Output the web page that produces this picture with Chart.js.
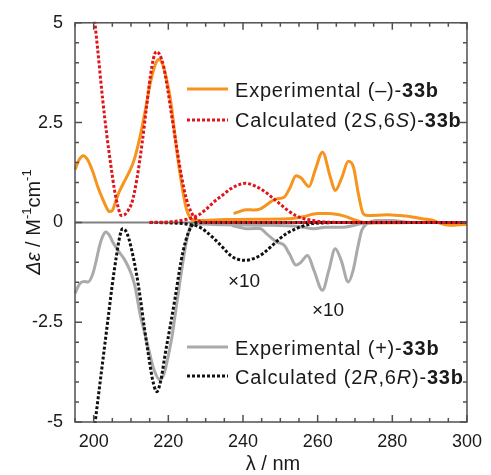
<!DOCTYPE html>
<html>
<head>
<meta charset="utf-8">
<script src="https://cdn.jsdelivr.net/npm/chart.js@4.4.1/dist/chart.umd.min.js"></script>
<style>
  html, body { margin: 0; padding: 0; background: #fff; }
</style>
</head>
<body>
<canvas id="chart" width="491" height="475"></canvas>
<script>
// ---- data (wavelength in nm, delta-epsilon) ----
const expMinusLambda = [195, 196, 197.2, 198.5, 199.8, 201, 202.4, 203.4, 204.2, 205, 205.8, 206.8, 208.2, 209.5, 210.4, 211.2, 212.5, 213.9, 215.2, 216.7, 217.5, 218.5, 219.5, 220.7, 221.5, 222.2, 223.5, 224.8, 225.8, 226.8, 228, 235, 245, 252, 256, 260, 263, 267.4, 270, 272.5, 280, 290, 300];
const expMinusValue  = [1.32, 1.55, 1.67, 1.55, 1.26, 0.92, 0.59, 0.38, 0.27, 0.3, 0.5, 0.76, 1.02, 1.26, 1.45, 1.68, 2.18, 2.84, 3.5, 4.0, 4.09, 3.95, 3.6, 3.0, 2.4, 1.84, 1.0, 0.35, 0.12, 0.05, 0.05, 0.07, 0.08, 0.09, 0.14, 0.22, 0.22, 0.15, 0.06, 0.0, -0.01, 0.0, 0.0];

const expMinusX10Lambda = [237.5, 239, 241, 243, 244.5, 246, 247.5, 249, 251, 252.5, 254.2, 255.5, 257.7, 259.3, 261.3, 263.4, 264.7, 266.5, 268.2, 269.6, 270.9, 272.2, 273.4, 278.7, 282, 285.8, 288, 291, 293, 295.4, 298, 300];
const expMinusX10Value  = [0.22, 0.27, 0.32, 0.31, 0.33, 0.42, 0.52, 0.59, 0.63, 0.85, 1.17, 1.12, 0.9, 1.3, 1.76, 1.13, 0.8, 1.13, 1.53, 1.38, 0.72, 0.22, 0.17, 0.19, 0.17, 0.13, 0.09, 0.05, -0.03, -0.07, -0.06, -0.05];

const expPlusLambda = [195, 196.3, 197.5, 198.5, 199.8, 200.7, 201.6, 202.5, 203.3, 204.2, 205.1, 206.8, 208.2, 209.5, 210.4, 211.2, 212.5, 213.6, 214.7, 216, 217.8, 219, 220, 221, 221.8, 222.7, 223.5, 224.6, 225.7, 226.8, 228, 235, 245, 255, 259, 262, 267, 272, 280, 290, 300];
const expPlusValue  = [-1.78, -1.53, -1.48, -1.49, -1.28, -0.95, -0.58, -0.33, -0.24, -0.32, -0.49, -0.74, -0.92, -1.16, -1.38, -1.66, -2.33, -2.75, -3.16, -3.65, -3.95, -3.75, -3.33, -2.85, -2.33, -1.75, -1.24, -0.6, -0.16, -0.05, -0.04, -0.06, -0.07, -0.1, -0.16, -0.12, -0.12, -0.03, 0.0, 0.0, 0.0];

const expPlusX10Lambda = [237, 239, 241, 244.5, 246.5, 249, 251, 252.5, 254.2, 255.5, 257.3, 259, 261.3, 263, 264.7, 266.3, 268.2, 269.5, 270.8, 271.8, 273, 276, 280, 285, 290, 300];
const expPlusX10Value  = [-0.08, -0.12, -0.16, -0.15, -0.3, -0.49, -0.57, -0.8, -1.07, -1.0, -0.83, -1.2, -1.7, -1.2, -0.66, -0.95, -1.49, -1.2, -0.6, -0.2, -0.05, 0.05, 0.05, 0.0, 0.0, 0.0];

const calcSSLambda = [200, 201, 202.4, 203.5, 204.6, 205.6, 206.5, 207.4, 208.4, 209.4, 210.3, 211.6, 213, 214.1, 215.2, 216, 216.8, 217.7, 218.7, 219.8, 220.9, 222.2, 223.5, 224.8, 226.1, 227.9, 230, 260, 300];
const calcSSValue  = [5.3, 4.4, 3.09, 2.2, 1.43, 0.8, 0.4, 0.17, 0.2, 0.33, 0.51, 1.1, 2.0, 2.85, 3.67, 4.1, 4.28, 4.2, 3.92, 3.35, 2.67, 1.9, 1.17, 0.6, 0.26, 0.05, 0.0, 0.0, 0.0];

const calcSSX10Lambda = [215, 220, 222, 225, 228, 230, 232.3, 234.5, 236.7, 238.5, 240.6, 243, 245.4, 247.6, 249.8, 252, 254.2, 256.4, 258.6, 262, 266, 300];
const calcSSX10Value  = [0.0, 0.01, 0.03, 0.08, 0.18, 0.32, 0.52, 0.68, 0.84, 0.93, 0.98, 0.92, 0.8, 0.64, 0.47, 0.3, 0.17, 0.09, 0.05, 0.01, 0.0, 0.0];

const calcRRLambda = [200, 201, 202, 203, 204, 205, 206, 207, 207.7, 208.5, 209.4, 210.3, 211.4, 212.5, 213.6, 214.7, 215.8, 216.9, 218, 219.1, 220.5, 221.8, 222.9, 223.9, 225.4, 227, 229, 260, 300];
const calcRRValue  = [-5.3, -4.55, -3.8, -3.05, -2.3, -1.55, -0.9, -0.35, -0.16, -0.2, -0.4, -0.74, -1.25, -1.9, -2.65, -3.33, -3.95, -4.24, -3.95, -3.33, -2.6, -1.9, -1.25, -0.74, -0.25, -0.02, 0.0, 0.0, 0.0];

const calcRRX10Lambda = [215, 220, 224, 226, 228, 230, 232.3, 234.5, 236.7, 238.5, 240.6, 243, 245.4, 247.6, 249.8, 252, 254.2, 256.4, 258.6, 262, 266, 300];
const calcRRX10Value  = [0.0, -0.01, -0.03, -0.06, -0.1, -0.22, -0.41, -0.62, -0.83, -0.92, -0.95, -0.9, -0.78, -0.6, -0.41, -0.26, -0.16, -0.08, -0.03, -0.01, 0.0, 0.0];

const xMin = 195, xMax = 300, xStep = 5;
const yMin = -5, yMax = 5, yStep = 0.5;

const FONT = "'Liberation Sans', Arial, Helvetica, sans-serif";
const ORANGE = '#f7941d', GREY = '#aaaaaa', RED = '#e0141c', BLACK = '#111111';

const pts = (xs, ys) => xs.map((x, i) => ({ x: x, y: ys[i] }));

function line(label, xs, ys, color, dotted) {
  return {
    label: label,
    data: pts(xs, ys),
    borderColor: color,
    borderWidth: 3,
    borderDash: dotted ? [3, 2] : [],
    pointRadius: 0,
    cubicInterpolationMode: 'monotone',
    fill: false,
    clip: 1
  };
}

// legend rows: [color, dotted, y of sample, baseline, text parts]
const R = '20px ' + FONT, B = 'bold 20px ' + FONT, I = 'italic 20px ' + FONT;
const legendRows = [
  [ORANGE, false, 89, 97,  [['Experimental (\u2013)-', R], ['33b', B]]],
  [RED,    true, 120, 127, [['Calculated (2', R], ['S', I], [',6', R], ['S', I], [')-', R], ['33b', B]]],
  [GREY,   false, 347, 355, [['Experimental (+)-', R], ['33b', B]]],
  [BLACK,  true, 376, 384, [['Calculated (2', R], ['R', I], [',6', R], ['R', I], [')-', R], ['33b', B]]]
];

function rich(ctx, x, y, parts) {
  let cx = x;
  parts.forEach(p => {
    ctx.font = p[1];
    ctx.fillText(p[0], cx, y + (p[2] || 0));
    cx += ctx.measureText(p[0]).width;
  });
}

const decor = {
  id: 'decor',
  beforeDatasetsDraw(chart) {
    const ctx = chart.ctx, a = chart.chartArea, y0 = chart.scales.y.getPixelForValue(0);
    ctx.save();
    ctx.strokeStyle = '#808080';
    ctx.lineWidth = 2;
    ctx.beginPath();
    ctx.moveTo(a.left, y0);
    ctx.lineTo(a.right, y0);
    ctx.stroke();
    ctx.restore();
  },
  afterDraw(chart) {
    const ctx = chart.ctx, a = chart.chartArea, xs = chart.scales.x, ys = chart.scales.y;
    ctx.save();
    // frame
    ctx.strokeStyle = '#505050';
    ctx.lineWidth = 1.5;
    ctx.strokeRect(a.left, a.top, a.right - a.left, a.bottom - a.top);
    // inward ticks on all four sides
    ctx.beginPath();
    xs.ticks.forEach(t => {
      const p = xs.getPixelForValue(t.value);
      const len = t.value % 20 === 0 ? 7 : 4;
      ctx.moveTo(p, a.bottom); ctx.lineTo(p, a.bottom - len);
      ctx.moveTo(p, a.top); ctx.lineTo(p, a.top + len);
    });
    ys.ticks.forEach(t => {
      const p = ys.getPixelForValue(t.value);
      const len = Math.abs(t.value % 2.5) < 1e-9 ? 7 : 4;
      ctx.moveTo(a.left, p); ctx.lineTo(a.left + len, p);
      ctx.moveTo(a.right, p); ctx.lineTo(a.right - len, p);
    });
    ctx.stroke();

    // legend
    ctx.fillStyle = '#1a1a1a';
    ctx.textBaseline = 'alphabetic';
    ctx.textAlign = 'left';
    legendRows.forEach(r => {
      ctx.strokeStyle = r[0];
      ctx.lineWidth = 3;
      ctx.setLineDash(r[1] ? [3, 2] : []);
      ctx.beginPath();
      ctx.moveTo(187, r[2]);
      ctx.lineTo(228, r[2]);
      ctx.stroke();
      ctx.setLineDash([]);
      ctx.letterSpacing = '0.8px';
      rich(ctx, 235, r[3], r[4]);
      ctx.letterSpacing = '0px';
    });

    // x10 notes
    ctx.font = '19px ' + FONT;
    ctx.textAlign = 'center';
    ctx.fillText('\u00d710', 244, 287);
    ctx.fillText('\u00d710', 328, 316);

    // x title
    ctx.font = '20px ' + FONT;
    ctx.fillText('\u03bb / nm', 273, 470);

    // y title (rotated)
    ctx.translate(40, 222);
    ctx.rotate(-Math.PI / 2);
    ctx.textAlign = 'left';
    const yParts = [['\u0394\u03b5', I], [' / M', R], ['-1', '13px ' + FONT, -9], ['cm', R], ['-1', '13px ' + FONT, -9]];
    let w = 0;
    yParts.forEach(p => { ctx.font = p[1]; w += ctx.measureText(p[0]).width; });
    rich(ctx, -w / 2, 0, yParts);
    ctx.restore();
  }
};

const ctx = document.getElementById('chart').getContext('2d');

new Chart(ctx, {
  type: 'line',
  data: {
    datasets: [
      line('Calculated (2S,6S)-33b', calcSSLambda, calcSSValue, RED, true),
      line('Calculated (2S,6S)-33b x10', calcSSX10Lambda, calcSSX10Value, RED, true),
      line('Calculated (2R,6R)-33b', calcRRLambda, calcRRValue, BLACK, true),
      line('Calculated (2R,6R)-33b x10', calcRRX10Lambda, calcRRX10Value, BLACK, true),
      line('Experimental (-)-33b', expMinusLambda, expMinusValue, ORANGE, false),
      line('Experimental (-)-33b x10', expMinusX10Lambda, expMinusX10Value, ORANGE, false),
      line('Experimental (+)-33b', expPlusLambda, expPlusValue, GREY, false),
      line('Experimental (+)-33b x10', expPlusX10Lambda, expPlusX10Value, GREY, false)
    ]
  },
  options: {
    responsive: false,
    animation: false,
    devicePixelRatio: 1,
    layout: { padding: { top: 22, right: 17, left: 0, bottom: 0 } },
    plugins: {
      legend: { display: false },
      tooltip: { enabled: false }
    },
    scales: {
      x: {
        type: 'linear',
        min: xMin,
        max: xMax,
        afterFit: s => { s.height = 53; },
        grid: { display: false, drawTicks: false },
        border: { display: false },
        ticks: {
          stepSize: xStep,
          autoSkip: false,
          maxRotation: 0,
          padding: 9,
          color: '#1a1a1a',
          font: { family: FONT, size: 18 },
          callback: v => (v % 20 === 0 ? String(v) : '')
        }
      },
      y: {
        min: yMin,
        max: yMax,
        afterFit: s => { s.width = 75; },
        grid: { display: false, drawTicks: false },
        border: { display: false },
        ticks: {
          stepSize: yStep,
          autoSkip: false,
          padding: 12,
          color: '#1a1a1a',
          font: { family: FONT, size: 18 },
          callback: v => (Math.abs(v % 2.5) < 1e-9 ? String(v) : '')
        }
      }
    }
  },
  plugins: [decor]
});
</script>
</body>
</html>
